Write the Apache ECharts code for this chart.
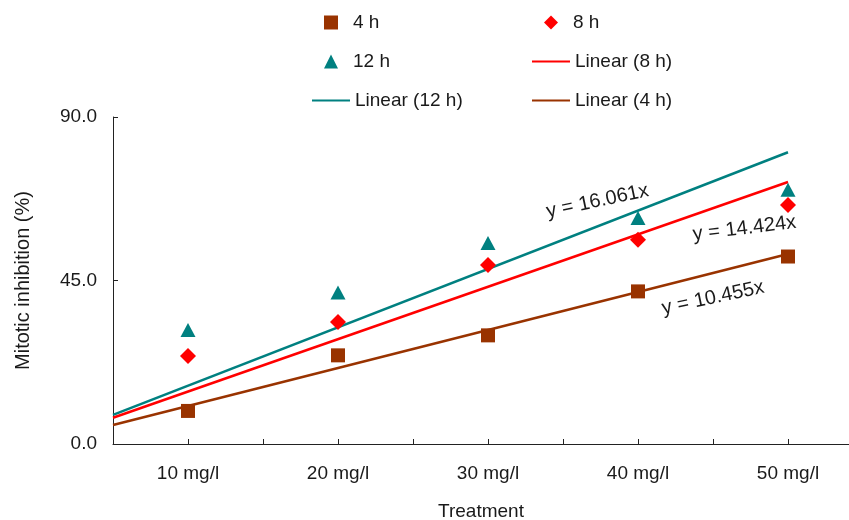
<!DOCTYPE html>
<html>
<head>
<meta charset="utf-8">
<script src="https://cdn.jsdelivr.net/npm/echarts@6/dist/echarts.min.js"></script>
<style>html,body{margin:0;padding:0;background:#fff;}#c{width:849px;height:520px;}</style>
</head>
<body>
<div id="c"></div>
<script>
// ---- data ----
const categories = ['10 mg/l', '20 mg/l', '30 mg/l', '40 mg/l', '50 mg/l'];
const xPositions = [1, 2, 3, 4, 5];
const values4h  = [9.1, 24.4, 29.9, 42.0, 51.6];
const values8h  = [24.2, 33.6, 49.3, 56.2, 65.8];
const values12h = [31.4, 41.7, 55.3, 62.2, 70.0];
// trendline slopes (y = kx), as printed on the chart
const slope4h = 10.455;
const slope8h = 14.424;
const slope12h = 16.061;
const trendXRange = [0.5, 5];
const yTicks = [0, 45, 90];

const FONT = "'Liberation Sans', Arial, sans-serif";
const TXT = '#1a1a1a';

function pts(vals) { return xPositions.map((x, i) => [x, vals[i]]); }
function trend(k) { return trendXRange.map(x => [x, +(k * x).toFixed(3)]); }

const chart = echarts.init(document.getElementById('c'), null, {renderer: 'canvas'});

// the plot area runs past the right edge of the picture (to x = 5.5)
const X_MAX_VISIBLE = 0.5 + (849 - 113) / 150;

const ROW0 = 13, ROW_STEP = 39;
const legendBase = {
  orient: 'vertical', padding: 0, itemGap: 20,
  textStyle: {fontFamily: FONT, fontSize: 19, color: TXT},
  selectedMode: false
};
const symLegend = (left, top, data) => Object.assign({}, legendBase, {
  left: left, top: top, data: data, itemWidth: 14, itemHeight: 14,
  textStyle: Object.assign({}, legendBase.textStyle, {padding: [0, 0, 0, 10]})
});
const lineLegend = (left, top, data) => Object.assign({}, legendBase, {
  left: left, top: top, itemWidth: 38, itemHeight: 14,
  data: data.map(n => ({name: n, itemStyle: {opacity: 0}}))
});

const option = {
  animation: false,
  backgroundColor: '#fff',
  grid: {left: 113, right: 0, top: 117, bottom: 76, containLabel: false, outerBoundsMode: 'none'},
  legend: [
    symLegend(324, ROW0, ['4 h', '12 h']),
    lineLegend(311, ROW0 + 2 * ROW_STEP, ['Linear (12 h)']),
    symLegend(544, ROW0, ['8 h']),
    lineLegend(531, ROW0 + ROW_STEP, ['Linear (8 h)', 'Linear (4 h)'])
  ],
  xAxis: {
    type: 'value', min: 0.5, max: X_MAX_VISIBLE, interval: 0.5,
    name: 'Treatment', nameLocation: 'middle', nameGap: 58,
    nameTextStyle: {fontFamily: FONT, fontSize: 19, color: TXT},
    axisLine: {show: true, lineStyle: {color: '#222', width: 1}},
    axisTick: {show: true, inside: true, length: 5, lineStyle: {color: '#222'}},
    splitLine: {show: false},
    axisLabel: {
      fontFamily: FONT, fontSize: 19, color: TXT, margin: 20,
      showMinLabel: true, showMaxLabel: true,
      formatter: v => {
        const i = Math.round(v);
        return (Math.abs(v - i) < 1e-6 && i >= 1 && i <= categories.length) ? categories[i - 1] : '';
      }
    }
  },
  yAxis: {
    type: 'value', min: yTicks[0], max: yTicks[yTicks.length - 1], interval: yTicks[1] - yTicks[0],
    name: 'Mitotic inhibition (%)', nameLocation: 'middle', nameGap: 80,
    nameTextStyle: {fontFamily: FONT, fontSize: 20, color: TXT},
    axisLine: {show: true, lineStyle: {color: '#222', width: 1}},
    axisTick: {show: true, inside: true, length: 5, lineStyle: {color: '#222'}},
    splitLine: {show: false},
    axisLabel: {fontFamily: FONT, fontSize: 19, color: TXT, margin: 16, formatter: v => v.toFixed(1)}
  },
  series: [
    {name: 'Linear (12 h)', type: 'line', data: trend(slope12h), symbol: 'none', z: 2,
     lineStyle: {color: '#008080', width: 2.5}, itemStyle: {color: '#008080'}},
    {name: 'Linear (8 h)', type: 'line', data: trend(slope8h), symbol: 'none', z: 2,
     lineStyle: {color: '#FF0000', width: 2.5}, itemStyle: {color: '#FF0000'}},
    {name: 'Linear (4 h)', type: 'line', data: trend(slope4h), symbol: 'none', z: 2,
     lineStyle: {color: '#993300', width: 2.5}, itemStyle: {color: '#993300'}},
    {name: '4 h', type: 'scatter', data: pts(values4h), symbol: 'rect', symbolSize: 14, z: 3,
     itemStyle: {color: '#993300', opacity: 1}},
    {name: '8 h', type: 'scatter', data: pts(values8h), symbol: 'diamond', symbolSize: 16, z: 3,
     itemStyle: {color: '#FF0000', opacity: 1}},
    {name: '12 h', type: 'scatter', data: pts(values12h), symbol: 'triangle', symbolSize: [15, 14], z: 3,
     itemStyle: {color: '#008080', opacity: 1}}
  ]
};
chart.setOption(option);

// equation annotations, anchored in data coordinates
const eqLabels = [
  {text: 'y = 16.061x', at: [3.73, 66.8], rot: 12},
  {text: 'y = 14.424x', at: [4.71, 59.3], rot: 7},
  {text: 'y = 10.455x', at: [4.5, 40.2], rot: 12}
];
chart.setOption({
  graphic: eqLabels.map(l => {
    const p = chart.convertToPixel({gridIndex: 0}, l.at);
    return {
      type: 'text', x: p[0], y: p[1], rotation: l.rot * Math.PI / 180, z: 10,
      style: {text: l.text, font: '20px ' + FONT, fill: TXT, align: 'center', verticalAlign: 'middle'}
    };
  })
});
</script>
</body>
</html>
